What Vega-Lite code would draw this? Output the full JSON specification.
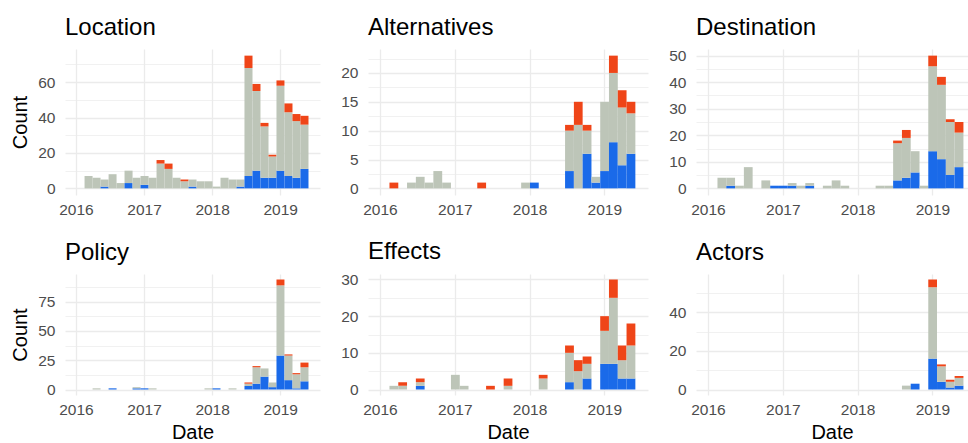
{
  "$schema": "https://vega.github.io/schema/vega-lite/v6.json",
  "background": "white",
  "padding": {"left": 10, "top": 15, "right": 0, "bottom": 0},
  "datasets": {
    "bins": [
      {"k":1,"a":2016.127,"b":2016.245},{"k":2,"a":2016.245,"b":2016.362},{"k":3,"a":2016.362,"b":2016.480},
      {"k":4,"a":2016.480,"b":2016.597},{"k":5,"a":2016.597,"b":2016.714},{"k":6,"a":2016.714,"b":2016.832},
      {"k":7,"a":2016.832,"b":2016.949},{"k":8,"a":2016.949,"b":2017.067},{"k":9,"a":2017.067,"b":2017.184},
      {"k":10,"a":2017.184,"b":2017.301},{"k":11,"a":2017.301,"b":2017.419},{"k":12,"a":2017.419,"b":2017.536},
      {"k":13,"a":2017.536,"b":2017.654},{"k":14,"a":2017.654,"b":2017.771},{"k":15,"a":2017.771,"b":2017.888},
      {"k":16,"a":2017.888,"b":2018.006},{"k":17,"a":2018.006,"b":2018.123},{"k":18,"a":2018.123,"b":2018.241},
      {"k":19,"a":2018.241,"b":2018.358},{"k":20,"a":2018.358,"b":2018.475},{"k":21,"a":2018.475,"b":2018.593},
      {"k":22,"a":2018.593,"b":2018.710},{"k":23,"a":2018.710,"b":2018.828},{"k":24,"a":2018.828,"b":2018.945},
      {"k":25,"a":2018.945,"b":2019.062},{"k":26,"a":2019.062,"b":2019.180},{"k":27,"a":2019.180,"b":2019.297},
      {"k":28,"a":2019.297,"b":2019.415}
    ],
    "counts": [
      {"p":"Location","k":1,"t":"B","n":7},{"p":"Location","k":2,"t":"B","n":6},
      {"p":"Location","k":3,"t":"A","n":1},{"p":"Location","k":3,"t":"B","n":4},
      {"p":"Location","k":4,"t":"B","n":8},{"p":"Location","k":5,"t":"B","n":3},
      {"p":"Location","k":6,"t":"A","n":3},{"p":"Location","k":6,"t":"B","n":7},
      {"p":"Location","k":7,"t":"B","n":6},
      {"p":"Location","k":8,"t":"A","n":2},{"p":"Location","k":8,"t":"B","n":5},
      {"p":"Location","k":9,"t":"B","n":6},
      {"p":"Location","k":10,"t":"B","n":14},{"p":"Location","k":10,"t":"C","n":2},
      {"p":"Location","k":11,"t":"B","n":11},{"p":"Location","k":11,"t":"C","n":3},
      {"p":"Location","k":12,"t":"B","n":6},
      {"p":"Location","k":13,"t":"B","n":4},{"p":"Location","k":13,"t":"C","n":1},
      {"p":"Location","k":14,"t":"A","n":1},{"p":"Location","k":14,"t":"B","n":4},
      {"p":"Location","k":15,"t":"B","n":4},{"p":"Location","k":16,"t":"B","n":4},
      {"p":"Location","k":17,"t":"B","n":1},{"p":"Location","k":18,"t":"B","n":6},
      {"p":"Location","k":19,"t":"B","n":5},
      {"p":"Location","k":20,"t":"A","n":1},{"p":"Location","k":20,"t":"B","n":4},
      {"p":"Location","k":21,"t":"A","n":7},{"p":"Location","k":21,"t":"B","n":61},{"p":"Location","k":21,"t":"C","n":7},
      {"p":"Location","k":22,"t":"A","n":10},{"p":"Location","k":22,"t":"B","n":45},{"p":"Location","k":22,"t":"C","n":4},
      {"p":"Location","k":23,"t":"A","n":6},{"p":"Location","k":23,"t":"B","n":29},{"p":"Location","k":23,"t":"C","n":2},
      {"p":"Location","k":24,"t":"A","n":6},{"p":"Location","k":24,"t":"B","n":12},{"p":"Location","k":24,"t":"C","n":1},
      {"p":"Location","k":25,"t":"A","n":10},{"p":"Location","k":25,"t":"B","n":48},{"p":"Location","k":25,"t":"C","n":3},
      {"p":"Location","k":26,"t":"A","n":7},{"p":"Location","k":26,"t":"B","n":36},{"p":"Location","k":26,"t":"C","n":5},
      {"p":"Location","k":27,"t":"A","n":6},{"p":"Location","k":27,"t":"B","n":32},{"p":"Location","k":27,"t":"C","n":4},
      {"p":"Location","k":28,"t":"A","n":11},{"p":"Location","k":28,"t":"B","n":25},{"p":"Location","k":28,"t":"C","n":5},

      {"p":"Alternatives","k":1,"t":"C","n":1},{"p":"Alternatives","k":3,"t":"B","n":1},
      {"p":"Alternatives","k":4,"t":"B","n":2},{"p":"Alternatives","k":5,"t":"B","n":1},
      {"p":"Alternatives","k":6,"t":"B","n":3},{"p":"Alternatives","k":7,"t":"B","n":1},
      {"p":"Alternatives","k":11,"t":"C","n":1},{"p":"Alternatives","k":16,"t":"B","n":1},
      {"p":"Alternatives","k":17,"t":"A","n":1},
      {"p":"Alternatives","k":21,"t":"A","n":3},{"p":"Alternatives","k":21,"t":"B","n":7},{"p":"Alternatives","k":21,"t":"C","n":1},
      {"p":"Alternatives","k":22,"t":"B","n":11},{"p":"Alternatives","k":22,"t":"C","n":4},
      {"p":"Alternatives","k":23,"t":"A","n":6},{"p":"Alternatives","k":23,"t":"B","n":4},{"p":"Alternatives","k":23,"t":"C","n":1},
      {"p":"Alternatives","k":24,"t":"A","n":1},{"p":"Alternatives","k":24,"t":"B","n":1},
      {"p":"Alternatives","k":25,"t":"A","n":3},{"p":"Alternatives","k":25,"t":"B","n":12},
      {"p":"Alternatives","k":26,"t":"A","n":8},{"p":"Alternatives","k":26,"t":"B","n":12},{"p":"Alternatives","k":26,"t":"C","n":3},
      {"p":"Alternatives","k":27,"t":"A","n":4},{"p":"Alternatives","k":27,"t":"B","n":10},{"p":"Alternatives","k":27,"t":"C","n":3},
      {"p":"Alternatives","k":28,"t":"A","n":6},{"p":"Alternatives","k":28,"t":"B","n":7},{"p":"Alternatives","k":28,"t":"C","n":2},

      {"p":"Destination","k":1,"t":"B","n":4},
      {"p":"Destination","k":2,"t":"A","n":1},{"p":"Destination","k":2,"t":"B","n":3},
      {"p":"Destination","k":3,"t":"B","n":1},{"p":"Destination","k":4,"t":"B","n":8},
      {"p":"Destination","k":6,"t":"B","n":3},{"p":"Destination","k":7,"t":"A","n":1},
      {"p":"Destination","k":8,"t":"A","n":1},
      {"p":"Destination","k":9,"t":"A","n":1},{"p":"Destination","k":9,"t":"B","n":1},
      {"p":"Destination","k":10,"t":"B","n":1},
      {"p":"Destination","k":11,"t":"A","n":1},{"p":"Destination","k":11,"t":"B","n":1},
      {"p":"Destination","k":13,"t":"B","n":1},{"p":"Destination","k":14,"t":"B","n":3},
      {"p":"Destination","k":15,"t":"B","n":1},{"p":"Destination","k":19,"t":"B","n":1},
      {"p":"Destination","k":20,"t":"B","n":1},
      {"p":"Destination","k":21,"t":"A","n":3},{"p":"Destination","k":21,"t":"B","n":14},{"p":"Destination","k":21,"t":"C","n":1},
      {"p":"Destination","k":22,"t":"A","n":4},{"p":"Destination","k":22,"t":"B","n":15},{"p":"Destination","k":22,"t":"C","n":3},
      {"p":"Destination","k":23,"t":"A","n":6},{"p":"Destination","k":23,"t":"B","n":8},
      {"p":"Destination","k":24,"t":"B","n":1},
      {"p":"Destination","k":25,"t":"A","n":14},{"p":"Destination","k":25,"t":"B","n":32},{"p":"Destination","k":25,"t":"C","n":4},
      {"p":"Destination","k":26,"t":"A","n":11},{"p":"Destination","k":26,"t":"B","n":28},{"p":"Destination","k":26,"t":"C","n":3},
      {"p":"Destination","k":27,"t":"A","n":5},{"p":"Destination","k":27,"t":"B","n":20},{"p":"Destination","k":27,"t":"C","n":1},
      {"p":"Destination","k":28,"t":"A","n":8},{"p":"Destination","k":28,"t":"B","n":13},{"p":"Destination","k":28,"t":"C","n":4},

      {"p":"Policy","k":2,"t":"B","n":1},{"p":"Policy","k":4,"t":"A","n":1},
      {"p":"Policy","k":7,"t":"A","n":1},{"p":"Policy","k":7,"t":"B","n":1},
      {"p":"Policy","k":8,"t":"A","n":1},{"p":"Policy","k":9,"t":"B","n":1},
      {"p":"Policy","k":16,"t":"B","n":1},{"p":"Policy","k":17,"t":"A","n":1},
      {"p":"Policy","k":19,"t":"B","n":1},
      {"p":"Policy","k":21,"t":"A","n":3},{"p":"Policy","k":21,"t":"B","n":2},{"p":"Policy","k":21,"t":"C","n":1},
      {"p":"Policy","k":22,"t":"A","n":5},{"p":"Policy","k":22,"t":"B","n":14},{"p":"Policy","k":22,"t":"C","n":1},
      {"p":"Policy","k":23,"t":"A","n":11},{"p":"Policy","k":23,"t":"B","n":7},
      {"p":"Policy","k":24,"t":"A","n":2},{"p":"Policy","k":24,"t":"B","n":4},
      {"p":"Policy","k":25,"t":"A","n":29},{"p":"Policy","k":25,"t":"B","n":60},{"p":"Policy","k":25,"t":"C","n":5},
      {"p":"Policy","k":26,"t":"A","n":8},{"p":"Policy","k":26,"t":"B","n":21},{"p":"Policy","k":26,"t":"C","n":1},
      {"p":"Policy","k":27,"t":"A","n":1},{"p":"Policy","k":27,"t":"B","n":12},{"p":"Policy","k":27,"t":"C","n":1},
      {"p":"Policy","k":28,"t":"A","n":7},{"p":"Policy","k":28,"t":"B","n":12},{"p":"Policy","k":28,"t":"C","n":4},

      {"p":"Effects","k":1,"t":"B","n":1},
      {"p":"Effects","k":2,"t":"B","n":1},{"p":"Effects","k":2,"t":"C","n":1},
      {"p":"Effects","k":4,"t":"A","n":1},{"p":"Effects","k":4,"t":"B","n":1},{"p":"Effects","k":4,"t":"C","n":1},
      {"p":"Effects","k":8,"t":"B","n":4},{"p":"Effects","k":9,"t":"B","n":1},
      {"p":"Effects","k":12,"t":"C","n":1},
      {"p":"Effects","k":14,"t":"B","n":1},{"p":"Effects","k":14,"t":"C","n":2},
      {"p":"Effects","k":18,"t":"B","n":3},{"p":"Effects","k":18,"t":"C","n":1},
      {"p":"Effects","k":21,"t":"A","n":2},{"p":"Effects","k":21,"t":"B","n":8},{"p":"Effects","k":21,"t":"C","n":2},
      {"p":"Effects","k":22,"t":"B","n":5},{"p":"Effects","k":22,"t":"C","n":3},
      {"p":"Effects","k":23,"t":"A","n":3},{"p":"Effects","k":23,"t":"B","n":4},{"p":"Effects","k":23,"t":"C","n":2},
      {"p":"Effects","k":25,"t":"A","n":7},{"p":"Effects","k":25,"t":"B","n":9},{"p":"Effects","k":25,"t":"C","n":4},
      {"p":"Effects","k":26,"t":"A","n":7},{"p":"Effects","k":26,"t":"B","n":18},{"p":"Effects","k":26,"t":"C","n":5},
      {"p":"Effects","k":27,"t":"A","n":3},{"p":"Effects","k":27,"t":"B","n":5},{"p":"Effects","k":27,"t":"C","n":4},
      {"p":"Effects","k":28,"t":"A","n":3},{"p":"Effects","k":28,"t":"B","n":9},{"p":"Effects","k":28,"t":"C","n":6},

      {"p":"Actors","k":22,"t":"B","n":2},{"p":"Actors","k":23,"t":"A","n":3},
      {"p":"Actors","k":25,"t":"A","n":16},{"p":"Actors","k":25,"t":"B","n":37},{"p":"Actors","k":25,"t":"C","n":4},
      {"p":"Actors","k":26,"t":"A","n":4},{"p":"Actors","k":26,"t":"B","n":8},{"p":"Actors","k":26,"t":"C","n":1},
      {"p":"Actors","k":27,"t":"A","n":1},{"p":"Actors","k":27,"t":"B","n":3},{"p":"Actors","k":27,"t":"C","n":1},
      {"p":"Actors","k":28,"t":"A","n":2},{"p":"Actors","k":28,"t":"B","n":4},{"p":"Actors","k":28,"t":"C","n":1}
    ]
  },
  "data": {"name": "counts"},
  "transform": [
    {"lookup": "k", "from": {"data": {"name": "bins"}, "key": "k", "fields": ["a", "b"]}},
    {"stack": "n", "groupby": ["p", "k"], "sort": [{"field": "t", "order": "ascending"}], "as": ["y0", "y1"]}
  ],
  "columns": 3,
  "spacing": {"row": 79, "column": 48},
  "bounds": "flush",
  "concat": [
    {
      "width": 255, "height": 146, "title": "Location",
      "transform": [{"filter": "datum.p == 'Location'"}],
      "mark": "bar",
      "encoding": {
        "x": {"field": "a", "type": "quantitative", "scale": {"domain": [2015.84, 2019.584], "nice": false, "zero": false},
          "axis": {"title": null, "format": "d", "values": [2016, 2016.5, 2017, 2017.5, 2018, 2018.5, 2019, 2019.5], "labelExpr": "datum.value % 1 == 0 ? datum.label : ''",
            "gridWidth": {"condition": {"test": "datum.value % 1 != 0", "value": 0.7}, "value": 1.3}}},
        "x2": {"field": "b"},
        "y": {"field": "y0", "type": "quantitative", "scale": {"domain": [-3.75, 78.75], "nice": false, "zero": false},
          "axis": {"title": "Count", "values": [0, 10, 20, 30, 40, 50, 60, 70], "labelExpr": "datum.value % 20 == 0 ? datum.label : ''",
            "gridWidth": {"condition": {"test": "datum.value % 20 != 0", "value": 0.7}, "value": 1.3}}},
        "y2": {"field": "y1"},
        "color": {"field": "t", "type": "nominal", "scale": {"domain": ["A", "B", "C"], "range": ["#1A6AE9", "#BDC5B8", "#EF4518"]}, "legend": null}
      }
    },
    {
      "width": 280, "height": 146, "title": "Alternatives",
      "transform": [{"filter": "datum.p == 'Alternatives'"}],
      "mark": "bar",
      "encoding": {
        "x": {"field": "a", "type": "quantitative", "scale": {"domain": [2015.84, 2019.584], "nice": false, "zero": false},
          "axis": {"title": null, "format": "d", "values": [2016, 2016.5, 2017, 2017.5, 2018, 2018.5, 2019, 2019.5], "labelExpr": "datum.value % 1 == 0 ? datum.label : ''",
            "gridWidth": {"condition": {"test": "datum.value % 1 != 0", "value": 0.7}, "value": 1.3}}},
        "x2": {"field": "b"},
        "y": {"field": "y0", "type": "quantitative", "scale": {"domain": [-1.15, 24.15], "nice": false, "zero": false},
          "axis": {"title": null, "values": [0, 2.5, 5, 7.5, 10, 12.5, 15, 17.5, 20, 22.5], "labelExpr": "datum.value % 5 == 0 ? datum.label : ''",
            "gridWidth": {"condition": {"test": "datum.value % 5 != 0", "value": 0.7}, "value": 1.3}}},
        "y2": {"field": "y1"},
        "color": {"field": "t", "type": "nominal", "scale": {"domain": ["A", "B", "C"], "range": ["#1A6AE9", "#BDC5B8", "#EF4518"]}, "legend": null}
      }
    },
    {
      "width": 272, "height": 146, "title": "Destination",
      "transform": [{"filter": "datum.p == 'Destination'"}],
      "mark": "bar",
      "encoding": {
        "x": {"field": "a", "type": "quantitative", "scale": {"domain": [2015.84, 2019.476], "nice": false, "zero": false},
          "axis": {"title": null, "format": "d", "values": [2016, 2016.5, 2017, 2017.5, 2018, 2018.5, 2019], "labelExpr": "datum.value % 1 == 0 ? datum.label : ''",
            "gridWidth": {"condition": {"test": "datum.value % 1 != 0", "value": 0.7}, "value": 1.3}}},
        "x2": {"field": "b"},
        "y": {"field": "y0", "type": "quantitative", "scale": {"domain": [-2.5, 52.5], "nice": false, "zero": false},
          "axis": {"title": null, "values": [0, 5, 10, 15, 20, 25, 30, 35, 40, 45, 50], "labelExpr": "datum.value % 10 == 0 ? datum.label : ''",
            "gridWidth": {"condition": {"test": "datum.value % 10 != 0", "value": 0.7}, "value": 1.3}}},
        "y2": {"field": "y1"},
        "color": {"field": "t", "type": "nominal", "scale": {"domain": ["A", "B", "C"], "range": ["#1A6AE9", "#BDC5B8", "#EF4518"]}, "legend": null}
      }
    },
    {
      "width": 255, "height": 121, "title": "Policy",
      "transform": [{"filter": "datum.p == 'Policy'"}],
      "mark": "bar",
      "encoding": {
        "x": {"field": "a", "type": "quantitative", "scale": {"domain": [2015.84, 2019.584], "nice": false, "zero": false},
          "axis": {"title": "Date", "format": "d", "values": [2016, 2016.5, 2017, 2017.5, 2018, 2018.5, 2019, 2019.5], "labelExpr": "datum.value % 1 == 0 ? datum.label : ''",
            "gridWidth": {"condition": {"test": "datum.value % 1 != 0", "value": 0.7}, "value": 1.3}}},
        "x2": {"field": "b"},
        "y": {"field": "y0", "type": "quantitative", "scale": {"domain": [-4.7, 98.7], "nice": false, "zero": false},
          "axis": {"title": "Count", "values": [0, 12.5, 25, 37.5, 50, 62.5, 75, 87.5], "labelExpr": "datum.value % 25 == 0 ? datum.label : ''",
            "gridWidth": {"condition": {"test": "datum.value % 25 != 0", "value": 0.7}, "value": 1.3}}},
        "y2": {"field": "y1"},
        "color": {"field": "t", "type": "nominal", "scale": {"domain": ["A", "B", "C"], "range": ["#1A6AE9", "#BDC5B8", "#EF4518"]}, "legend": null}
      }
    },
    {
      "width": 280, "height": 121, "title": "Effects",
      "transform": [{"filter": "datum.p == 'Effects'"}],
      "mark": "bar",
      "encoding": {
        "x": {"field": "a", "type": "quantitative", "scale": {"domain": [2015.84, 2019.584], "nice": false, "zero": false},
          "axis": {"title": "Date", "format": "d", "values": [2016, 2016.5, 2017, 2017.5, 2018, 2018.5, 2019, 2019.5], "labelExpr": "datum.value % 1 == 0 ? datum.label : ''",
            "gridWidth": {"condition": {"test": "datum.value % 1 != 0", "value": 0.7}, "value": 1.3}}},
        "x2": {"field": "b"},
        "y": {"field": "y0", "type": "quantitative", "scale": {"domain": [-1.5, 31.5], "nice": false, "zero": false},
          "axis": {"title": null, "values": [0, 5, 10, 15, 20, 25, 30], "labelExpr": "datum.value % 10 == 0 ? datum.label : ''",
            "gridWidth": {"condition": {"test": "datum.value % 10 != 0", "value": 0.7}, "value": 1.3}}},
        "y2": {"field": "y1"},
        "color": {"field": "t", "type": "nominal", "scale": {"domain": ["A", "B", "C"], "range": ["#1A6AE9", "#BDC5B8", "#EF4518"]}, "legend": null}
      }
    },
    {
      "width": 272, "height": 121, "title": "Actors",
      "transform": [{"filter": "datum.p == 'Actors'"}],
      "mark": "bar",
      "encoding": {
        "x": {"field": "a", "type": "quantitative", "scale": {"domain": [2015.84, 2019.476], "nice": false, "zero": false},
          "axis": {"title": "Date", "format": "d", "values": [2016, 2016.5, 2017, 2017.5, 2018, 2018.5, 2019], "labelExpr": "datum.value % 1 == 0 ? datum.label : ''",
            "gridWidth": {"condition": {"test": "datum.value % 1 != 0", "value": 0.7}, "value": 1.3}}},
        "x2": {"field": "b"},
        "y": {"field": "y0", "type": "quantitative", "scale": {"domain": [-2.85, 59.85], "nice": false, "zero": false},
          "axis": {"title": null, "values": [0, 10, 20, 30, 40, 50], "labelExpr": "datum.value % 20 == 0 ? datum.label : ''",
            "gridWidth": {"condition": {"test": "datum.value % 20 != 0", "value": 0.7}, "value": 1.3}}},
        "y2": {"field": "y1"},
        "color": {"field": "t", "type": "nominal", "scale": {"domain": ["A", "B", "C"], "range": ["#1A6AE9", "#BDC5B8", "#EF4518"]}, "legend": null}
      }
    }
  ],
  "config": {
    "font": "Liberation Sans",
    "view": {"stroke": null},
    "axis": {
      "domain": false, "ticks": false, "tickSize": 0,
      "labelFont": "Liberation Sans", "labelFontSize": 15.5, "labelColor": "#4D4D4D", "labelPadding": 7,
      "titleFont": "Liberation Sans", "titleFontSize": 20, "titleFontWeight": "normal", "titleColor": "#000000", "titlePadding": 5,
      "gridColor": "#EBEBEB"
    },
    "axisY": {"labelPadding": 10, "titlePadding": 7},
    "title": {"font": "Liberation Sans", "fontSize": 24, "fontWeight": "normal", "color": "#000000", "anchor": "start", "frame": "group", "offset": 9}
  }
}
